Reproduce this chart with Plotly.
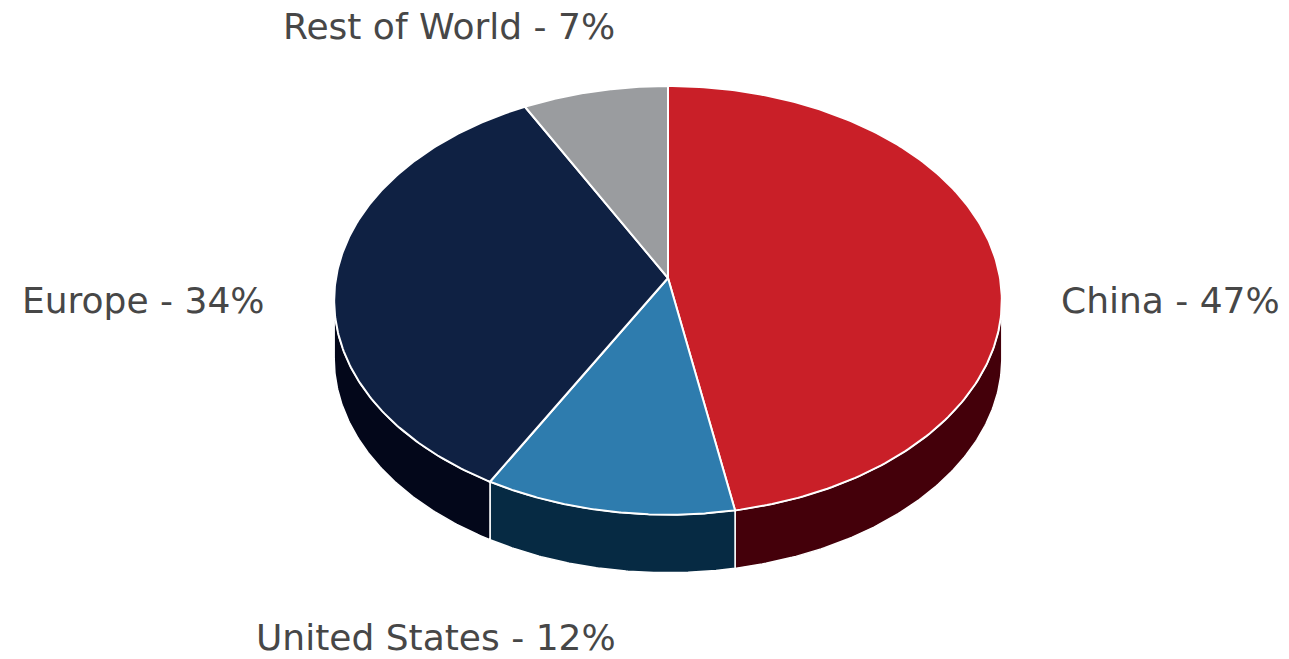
import numpy as np
import plotly.graph_objects as go

labels = ["China", "United States", "Europe", "Rest of World"]
values = [47.1, 11.0, 34.1, 7.8]
# percentages as printed in the labels
label_pct = [47, 12, 34, 7]
top_colors = ["#C91F28", "#2E7CAE", "#0F2143", "#9A9C9F"]
side_colors = ["#44000A", "#062A43", "#03071A", "#5A5C5F"]
label_text = [f"{l} - {v}%" for l, v in zip(labels, label_pct)]

# projection parameters (pixel space)
CX, CY = 668.0, 278.0
A, B, K = 332.0, 212.0, 0.1045
DEPTH = 58.0


def proj(theta, dy=0.0):
    s, c = np.sin(theta), np.cos(theta)
    d = 1 + K * c
    return CX + A * s / d, CY - B * c / d + dy


fig = go.Figure()

total = sum(values)
bounds = np.concatenate([[0], np.cumsum(values)]) / total * 2 * np.pi
vis_lo = np.arccos(-K)
vis_hi = 2 * np.pi - vis_lo

# side walls
for i in range(len(values)):
    a, b = max(bounds[i], vis_lo), min(bounds[i + 1], vis_hi)
    if b <= a:
        continue
    t = np.linspace(a, b, 120)
    xt, yt = proj(t)
    xb, yb = proj(t[::-1], DEPTH)
    xs = np.concatenate([xt, xb, xt[:1]])
    ys = np.concatenate([yt, yb, yt[:1]])
    fig.add_trace(go.Scatter(x=xs, y=ys, fill="toself", mode="lines",
                             fillcolor=side_colors[i],
                             line=dict(color="white", width=1.5),
                             hoverinfo="skip", showlegend=False))

# top faces
for i in range(len(values)):
    t = np.linspace(bounds[i], bounds[i + 1], 200)
    xt, yt = proj(t)
    xs = np.concatenate([[CX], xt, [CX]])
    ys = np.concatenate([[CY], yt, [CY]])
    fig.add_trace(go.Scatter(x=xs, y=ys, fill="toself", mode="lines",
                             fillcolor=top_colors[i],
                             line=dict(color="white", width=2),
                             hoverinfo="skip", showlegend=False))

label_pos = [(1170, 300), (436, 637), (143, 300), (449, 26)]
for txt, (lx, ly) in zip(label_text, label_pos):
    fig.add_annotation(x=lx, y=ly, xref="x", yref="y", text=txt,
                       showarrow=False,
                       font=dict(family="DejaVu Sans", size=36, color="#474747"),
                       xanchor="center", yanchor="middle")

fig.update_layout(
    width=1289, height=659,
    margin=dict(l=0, r=0, t=0, b=0),
    paper_bgcolor="white", plot_bgcolor="white",
    xaxis=dict(range=[0, 1289], visible=False, fixedrange=True),
    yaxis=dict(range=[659, 0], visible=False, fixedrange=True),
)

fig.write_html("out.html", config={"displayModeBar": False},
               post_script="document.body.style.margin='0';document.body.style.overflow='hidden';")
